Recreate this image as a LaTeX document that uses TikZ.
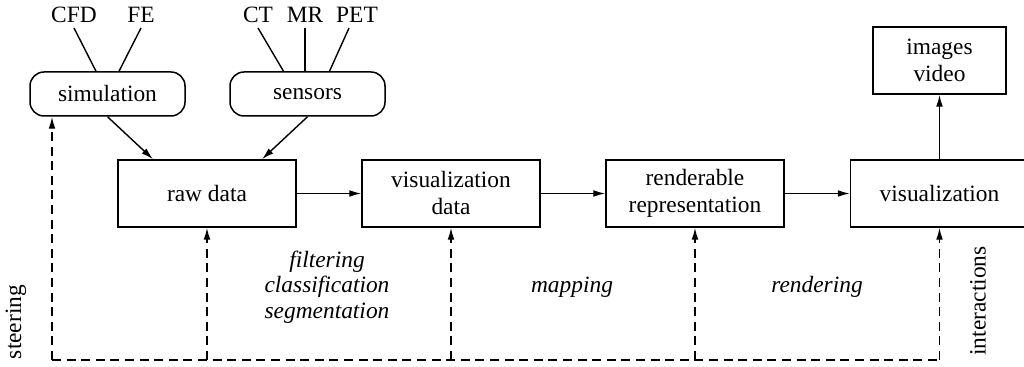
\documentclass[tikz,border=0pt]{standalone}
\usepackage{fontspec}
\setmainfont{Liberation Serif}
\usetikzlibrary{arrows.meta,positioning}
\newcommand{\fz}{\rmfamily\fontsize{11.7pt}{13.5pt}\selectfont}
\tikzset{
  blk/.style={rectangle, draw=black, line width=0.75pt, minimum width=89pt,
              minimum height=33.5pt, align=center, font=\fz, inner sep=1pt},
  src/.style={blk, rounded corners=7pt, minimum width=77.5pt, minimum height=22pt},
  outb/.style={blk, minimum width=66.5pt},
  mod/.style={font=\fz, anchor=south, inner sep=2.5pt},
  ln/.style={line width=0.7pt},
  ar/.style={-{Latex[length=6pt,width=3.4pt]}, line width=0.7pt},
  dsh/.style={line width=0.7pt, dash pattern=on 4.5pt off 2.8pt},
  arl/.style={dsh, -{Latex[length=6pt,width=3.4pt]}},
  lbl/.style={font=\rmfamily\fontsize{11.7pt}{12.75pt}\selectfont\itshape, align=center},
  side/.style={font=\fz, rotate=90},
}

\begin{document}
\begin{tikzpicture}[x=0.5pt,y=-0.5pt]
\useasboundingbox (0,0) rectangle (1024,367);

% ===================== sources =====================
\node[src] (SIM) at (107.5,94) {simulation};
\node[src] (SEN) at (307.5,94) {sensors};

\node[mod] (CFD) at (74,28)  {CFD};
\node[mod] (FE)  at (141,28) {FE};
\node[mod] (CT)  at (258,28) {CT};
\node[mod] (MR)  at (305,28) {MR};
\node[mod] (PET) at (357,28) {PET};

\draw[ln] (CFD.south) -- ([xshift=-5.75pt]SIM.north);
\draw[ln] (FE.south) -- ([xshift=5.75pt]SIM.north);
\draw[ln] (CT.south) -- ([xshift=-12pt]SEN.north);
\draw[ln] (MR.south) -- (MR.south |- SEN.north);
\draw[ln] ([xshift=-4pt]PET.south) -- ([xshift=11pt]SEN.north);

% ===================== pipeline =====================
\node[blk] (RAW) at (207,193.5)   {raw data};
\node[blk] (VD)  at (451,193.5)   {visualization\\data};
\node[blk] (RR)  at (695,193.5)   {renderable\\representation};
\node[blk] (VIS) at (939.5,193.5) {visualization};
\node[outb] (IMG) at (939.5,60.5) {images\\video};

\draw[ar] (SIM.south) -- ([xshift=-27pt]RAW.north);
\draw[ar] (SEN.south) -- ([xshift=27.5pt]RAW.north);
\draw[ar] (RAW.east) -- (VD.west);
\draw[ar] (VD.east) -- (RR.west);
\draw[ar] (RR.east) -- (VIS.west);
\draw[ar] (VIS.north) -- (IMG.south);

% ===================== feedback =====================
\coordinate (B0) at (52,360);
\coordinate (B4) at (VIS.south |- B0);
\draw[dsh] (B0) -- (B4);
\draw[arl] (B0) -- (B0 |- SIM.south);
\foreach \n in {RAW,VD,RR,VIS}
  \draw[arl] (\n.south |- B0) -- (\n.south);

% ===================== labels =====================
\node[lbl] (FIL) at (327,287) {filtering\\classification\\segmentation};
\node[lbl] (MAP) at (572,287) {mapping};
\node[lbl] (REN) at (817,287) {rendering};
\node[side] (STE) at (16,322)  {steering};
\node[side] (INT) at (978,301) {interactions};

\end{tikzpicture}
\end{document}
